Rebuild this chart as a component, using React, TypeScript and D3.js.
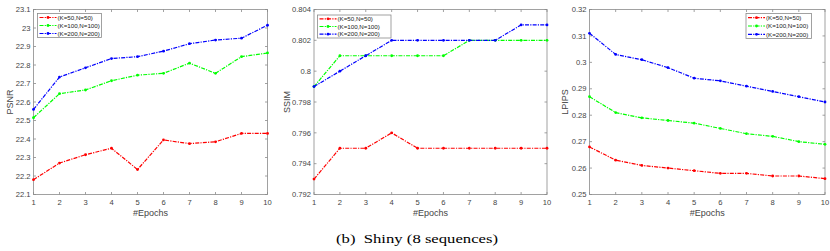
import React, { useEffect, useRef } from "react";
import * as d3 from "d3";

const epochs = [1, 2, 3, 4, 5, 6, 7, 8, 9, 10];
const seriesNames = ["(K=50,N=50)", "(K=100,N=100)", "(K=200,N=200)"];
const seriesColors = ["#ff0000", "#00ff00", "#0000ff"];

const psnrK50 = [22.18, 22.27, 22.315, 22.35, 22.235, 22.395, 22.375, 22.385, 22.43, 22.43];
const psnrK100 = [22.515, 22.645, 22.665, 22.715, 22.745, 22.755, 22.81, 22.755, 22.845, 22.865];
const psnrK200 = [22.56, 22.735, 22.785, 22.835, 22.845, 22.875, 22.915, 22.935, 22.945, 23.015];
const psnrTicks = [22.1, 22.2, 22.3, 22.4, 22.5, 22.6, 22.7, 22.8, 22.9, 23, 23.1];

const ssimK50 = [0.793, 0.795, 0.795, 0.796, 0.795, 0.795, 0.795, 0.795, 0.795, 0.795];
const ssimK100 = [0.799, 0.801, 0.801, 0.801, 0.801, 0.801, 0.802, 0.802, 0.802, 0.802];
const ssimK200 = [0.799, 0.8, 0.801, 0.802, 0.802, 0.802, 0.802, 0.802, 0.803, 0.803];
const ssimTicks = [0.792, 0.794, 0.796, 0.798, 0.8, 0.802, 0.804];

const lpipsK50 = [0.268, 0.263, 0.261, 0.26, 0.259, 0.258, 0.258, 0.257, 0.257, 0.256];
const lpipsK100 = [0.287, 0.281, 0.279, 0.278, 0.277, 0.275, 0.273, 0.272, 0.27, 0.269];
const lpipsK200 = [0.311, 0.303, 0.301, 0.298, 0.294, 0.293, 0.291, 0.289, 0.287, 0.285];
const lpipsTicks = [0.25, 0.26, 0.27, 0.28, 0.29, 0.3, 0.31, 0.32];

const panels = [
  { label: "PSNR", series: [psnrK50, psnrK100, psnrK200], ticks: psnrTicks, left: 33.5, right: 267.5, labelX: 12.7, legend: { x: 37.5, y: 13.5, w: 64, h: 24 } },
  { label: "SSIM", series: [ssimK50, ssimK100, ssimK200], ticks: ssimTicks, left: 314, right: 547, labelX: 289.5, legend: { x: 317.5, y: 15, w: 73.5, h: 23 } },
  { label: "LPIPS", series: [lpipsK50, lpipsK100, lpipsK200], ticks: lpipsTicks, left: 589.5, right: 825, labelX: 568, legend: { x: 746, y: 13.5, w: 65.5, h: 25 } },
];

const App = () => {
  const ref = useRef<SVGSVGElement>(null);

  useEffect(() => {
    const svg = d3.select(ref.current);
    svg.selectAll("*").remove();
    const top = 9.5;
    const bottom = 194.5;
    const axisColor = "#8a8a8a";
    const textColor = "#444";
    const font = "Liberation Sans, Arial, sans-serif";

    panels.forEach((p) => {
      const x = d3.scaleLinear([1, 10], [p.left, p.right]);
      const y = d3.scaleLinear([p.ticks[0], p.ticks[p.ticks.length - 1]], [bottom, top]);
      const g = svg.append("g");

      g.append("rect")
        .attr("x", p.left).attr("y", top)
        .attr("width", p.right - p.left).attr("height", bottom - top)
        .attr("fill", "white").attr("stroke", axisColor).attr("stroke-width", 0.8);

      // ticks inward on all four sides (matlab box)
      epochs.forEach((e) => {
        g.append("line").attr("x1", x(e)).attr("x2", x(e)).attr("y1", bottom).attr("y2", bottom - 2.5).attr("stroke", axisColor).attr("stroke-width", 0.8);
        g.append("line").attr("x1", x(e)).attr("x2", x(e)).attr("y1", top).attr("y2", top + 2.5).attr("stroke", axisColor).attr("stroke-width", 0.8);
        g.append("text").attr("x", x(e)).attr("y", 204.5).attr("text-anchor", "middle")
          .attr("font-family", font).attr("font-size", 7.6).attr("fill", textColor).text(e);
      });
      p.ticks.forEach((t) => {
        g.append("line").attr("x1", p.left).attr("x2", p.left + 2.5).attr("y1", y(t)).attr("y2", y(t)).attr("stroke", axisColor).attr("stroke-width", 0.8);
        g.append("line").attr("x1", p.right).attr("x2", p.right - 2.5).attr("y1", y(t)).attr("y2", y(t)).attr("stroke", axisColor).attr("stroke-width", 0.8);
        g.append("text").attr("x", p.left - 3).attr("y", y(t) + 2.7).attr("text-anchor", "end")
          .attr("font-family", font).attr("font-size", 7.6).attr("fill", textColor).text(String(t));
      });

      g.append("text").attr("x", (p.left + p.right) / 2).attr("y", 215.5).attr("text-anchor", "middle")
        .attr("font-family", font).attr("font-size", 9).attr("fill", textColor).text("#Epochs");
      g.append("text").attr("transform", `translate(${p.labelX},${(top + bottom) / 2}) rotate(-90)`)
        .attr("text-anchor", "middle").attr("font-family", font).attr("font-size", 9).attr("fill", textColor).text(p.label);

      const line = d3.line<number>().x((_, i) => x(epochs[i])).y((d) => y(d));
      p.series.forEach((s, si) => {
        g.append("path").attr("d", line(s)).attr("fill", "none").attr("stroke", seriesColors[si])
          .attr("stroke-width", 1.2).attr("stroke-dasharray", "4,1.2,1.2,1.2");
        g.selectAll(null).data(s).join("circle")
          .attr("cx", (_, i) => x(epochs[i])).attr("cy", (d) => y(d)).attr("r", 1.4).attr("fill", seriesColors[si]);
      });

      const L = p.legend;
      g.append("rect").attr("x", L.x).attr("y", L.y).attr("width", L.w).attr("height", L.h)
        .attr("fill", "white").attr("stroke", axisColor).attr("stroke-width", 0.8);
      const rowH = L.h / 3;
      seriesNames.forEach((n, si) => {
        const ry = L.y + rowH * (si + 0.5);
        g.append("line").attr("x1", L.x + 2).attr("x2", L.x + 19).attr("y1", ry).attr("y2", ry)
          .attr("stroke", seriesColors[si]).attr("stroke-width", 1.2).attr("stroke-dasharray", "4,1.2,1.2,1.2");
        g.append("circle").attr("cx", L.x + 10.5).attr("cy", ry).attr("r", 1.4).attr("fill", seriesColors[si]);
        g.append("text").attr("x", L.x + 20).attr("y", ry + 2.2).attr("font-family", font)
          .attr("font-size", 6.2).attr("fill", "#222").text(n);
      });
    });

    svg.append("text").attr("x", 336).attr("y", 243)
      .attr("font-family", "Liberation Serif, Times New Roman, serif").attr("font-size", 12).attr("fill", "#000")
      .attr("textLength", 162).attr("lengthAdjust", "spacingAndGlyphs")
      .style("white-space", "pre").text("(b)  Shiny (8 sequences)");
  }, []);

  return (
    <svg ref={ref} width={830} height={251} style={{ position: "absolute", left: 0, top: 0, background: "white" }} />
  );
};

export default App;
